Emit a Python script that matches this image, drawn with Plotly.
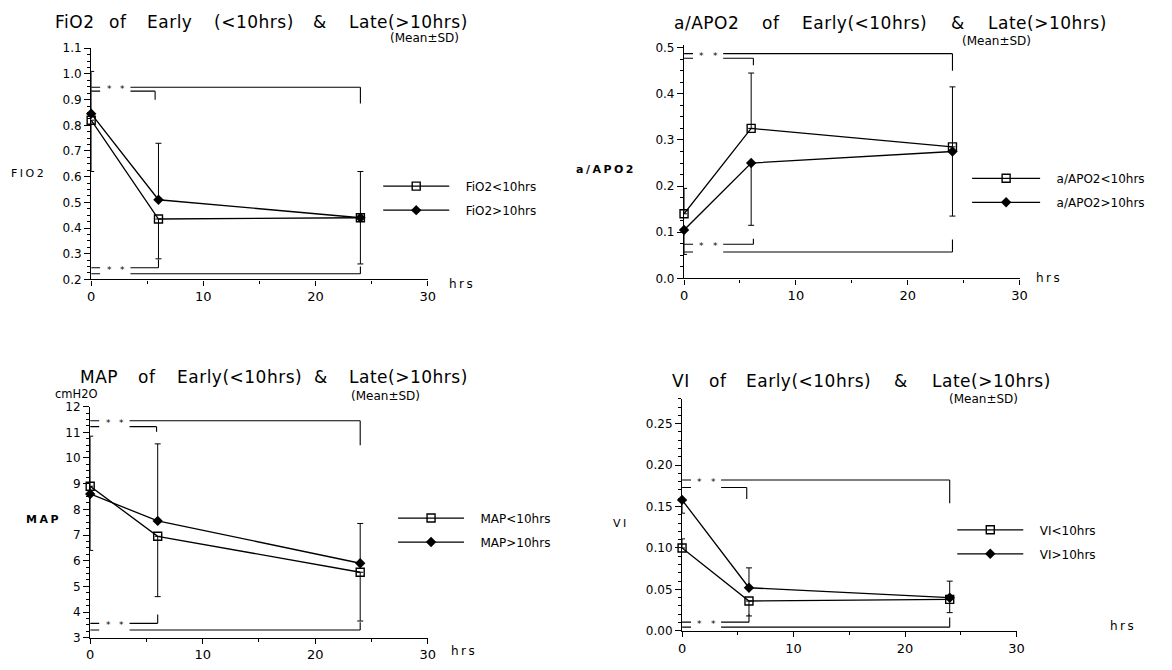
import plotly.graph_objects as go

W, H = 1172, 670
OFF = 8  # default page body margin

hours = [0, 6, 24]

# ---- FiO2 ----
fio2_lt10 = [0.82, 0.435, 0.44]
fio2_gt10 = [0.845, 0.51, 0.44]
fio2_lt10_plus = [0, 0, 0]
fio2_lt10_minus = [0.2, 0.155, 0.18]
fio2_gt10_plus = [0.165, 0.22, 0.18]
fio2_gt10_minus = [0, 0, 0]

# ---- a/APO2 ----
aapo2_lt10 = [0.14, 0.325, 0.285]
aapo2_gt10 = [0.105, 0.25, 0.275]
aapo2_lt10_plus = [0.055, 0.12, 0.13]
aapo2_lt10_minus = [0, 0, 0]
aapo2_gt10_plus = [0, 0, 0]
aapo2_gt10_minus = [0.053, 0.135, 0.14]

# ---- MAP ----
map_lt10 = [8.9, 6.95, 5.55]
map_gt10 = [8.6, 7.55, 5.9]
map_lt10_plus = [0, 0, 0]
map_lt10_minus = [2.5, 2.35, 1.9]
map_gt10_plus = [2.25, 3.0, 1.55]
map_gt10_minus = [0, 0, 0]

# ---- VI ----
vi_lt10 = [0.10, 0.036, 0.038]
vi_gt10 = [0.158, 0.052, 0.04]
vi_lt10_plus = [0.011, 0, 0]
vi_lt10_minus = [0, 0.018, 0.016]
vi_gt10_plus = [0, 0.024, 0.02]
vi_gt10_minus = [0.016, 0, 0]

# significance brackets: (y level, tip y, x end, asterisks)
fio2_brackets = [(0.948, 0.885, 24, True), (0.933, 0.9, 5.7, False),
                 (0.245, 0.277, 6, True), (0.222, 0.25, 24, False)]
aapo2_brackets = [(0.487, 0.45, 24, True), (0.477, 0.462, 6.2, False),
                  (0.074, 0.086, 6.2, True), (0.057, 0.084, 24, False)]
map_brackets = [(11.45, 10.5, 24, True), (11.22, 11.02, 5.9, False),
                (3.56, 3.9, 6, True), (3.3, 3.6, 24, False)]
vi_brackets = [(0.182, 0.154, 24, True), (0.173, 0.159, 5.8, False),
               (0.0105, 0.02, 6, True), (0.0045, 0.016, 24, False)]

NB = "\u00a0\u00a0\u00a0"
panels = [
    dict(lt=fio2_lt10, gt=fio2_gt10,
         ltp=fio2_lt10_plus, ltm=fio2_lt10_minus, gtp=fio2_gt10_plus, gtm=fio2_gt10_minus,
         br=fio2_brackets, yr=[0.2, 1.1], dtick=0.1, minor=0.025, fmt=".1f",
         dom_x=(88, 428), dom_y=(42, 278),
         words=["FiO2", "of", "Early", "(<10hrs)", "&", "Late(>10hrs)"],
         word_cx=[71, 115, 167.5, 252.5, 319, 409], title_y=15,
         mean_xy=(425, 31), ylab="FIO2", ylab_xy=(25, 170), ylab_bold=False,
         hrs_xy=(463, 283), leg_xy=(378, 168), iw=66, legname="legend",
         labels=["FiO2<10hrs", "FiO2>10hrs"]),
    dict(lt=aapo2_lt10, gt=aapo2_gt10,
         ltp=aapo2_lt10_plus, ltm=aapo2_lt10_minus, gtp=aapo2_gt10_plus, gtm=aapo2_gt10_minus,
         br=aapo2_brackets, yr=[0, 0.505], dtick=0.1, minor=0.025, fmt=".1f",
         dom_x=(687, 1026), dom_y=(39, 277),
         words=["a/APO2", "of", "Early(<10hrs)", "&", "Late(>10hrs)"],
         word_cx=[710, 775, 869, 964, 1054], title_y=16,
         mean_xy=(1003, 35), ylab="a/APO2", ylab_xy=(608, 166), ylab_bold=True,
         hrs_xy=(1056, 277), leg_xy=(973, 160), iw=68, legname="legend2",
         labels=["a/APO2<10hrs", "a/APO2>10hrs"]),
    dict(lt=map_lt10, gt=map_gt10,
         ltp=map_lt10_plus, ltm=map_lt10_minus, gtp=map_gt10_plus, gtm=map_gt10_minus,
         br=map_brackets, yr=[3, 12], dtick=1, minor=0.25, fmt="d",
         dom_x=(87, 428), dom_y=(408, 644),
         words=["MAP", "of", "Early(<10hrs)", "&", "Late(>10hrs)"],
         word_cx=[96, 144, 237.5, 320, 409], title_y=378,
         mean_xy=(385, 397), ylab="MAP", ylab_xy=(40, 523), ylab_bold=True,
         hrs_xy=(465, 658), leg_xy=(393, 507), iw=66, legname="legend3",
         labels=["MAP<10hrs", "MAP>10hrs"]),
    dict(lt=vi_lt10, gt=vi_gt10,
         ltp=vi_lt10_plus, ltm=vi_lt10_minus, gtp=vi_gt10_plus, gtm=vi_gt10_minus,
         br=vi_brackets, yr=[0, 0.28], dtick=0.05, minor=0.01, fmt=".2f",
         dom_x=(685, 1023), dom_y=(400, 637),
         words=["VI", "of", "Early(<10hrs)", "&", "Late(>10hrs)"],
         word_cx=[683.5, 721, 813, 906, 998], title_y=382,
         mean_xy=(990, 400), ylab="VI", ylab_xy=(623, 527), ylab_bold=False,
         hrs_xy=(1130, 632), leg_xy=(958, 519), iw=66, legname="legend4",
         labels=["VI<10hrs", "VI>10hrs"]),
]

FONT = "DejaVu Sans, Liberation Sans, sans-serif"
fig = go.Figure()
shapes = []
annotations = []
layout = dict(width=W, height=H, margin=dict(l=0, r=0, t=0, b=0),
              paper_bgcolor="white", plot_bgcolor="white", showlegend=True,
              font=dict(family=FONT, color="black", size=12))


def px(x):
    return (x - OFF) / W


def py(y):
    return 1 - (y - OFF) / H


def text_at(x, y, text, size, spacing=0.0, anchor="center"):
    if spacing:
        text = f'<span style="letter-spacing:{spacing}px">{text}</span>'
    annotations.append(dict(x=px(x), y=py(y), xref="paper", yref="paper", text=text,
                            showarrow=False, xanchor=anchor, yanchor="middle",
                            font=dict(size=size, family=FONT, color="black")))


for i, p in enumerate(panels, start=1):
    xa = "x" if i == 1 else f"x{i}"
    ya = "y" if i == 1 else f"y{i}"
    xkey = "xaxis" if i == 1 else f"xaxis{i}"
    ykey = "yaxis" if i == 1 else f"yaxis{i}"
    x0, x1 = p["dom_x"]
    ytop, ybot = p["dom_y"]
    layout[xkey] = dict(domain=[px(x0), px(x1)], range=[0, 30], anchor=ya,
                        showline=True, linecolor="black", linewidth=1.3,
                        ticks="outside", ticklen=5, tickwidth=1.2, tickcolor="black",
                        dtick=10, tick0=0, showgrid=False, zeroline=False,
                        tickfont=dict(size=13, family=FONT),
                        minor=dict(ticks="outside", ticklen=3, dtick=5, tickcolor="black"))
    layout[ykey] = dict(domain=[py(ybot), py(ytop)], range=p["yr"], anchor=xa,
                        showline=True, linecolor="black", linewidth=1.3,
                        ticks="outside", ticklen=6, tickwidth=1.2, tickcolor="black",
                        dtick=p["dtick"], tick0=0, tickformat=p["fmt"],
                        showgrid=False, zeroline=False,
                        tickfont=dict(size=12, family=FONT),
                        minor=dict(ticks="outside", ticklen=3, dtick=p["minor"], tickcolor="black"))

    fig.add_trace(go.Scatter(
        x=hours, y=p["lt"], mode="lines+markers", name=NB + p["labels"][0],
        xaxis=xa, yaxis=ya, legend=p["legname"], legendgroup=f"{i}a",
        line=dict(color="black", width=1.3), cliponaxis=False,
        marker=dict(symbol="square-open", size=8, color="black", line=dict(width=1.4)),
        error_y=dict(type="data", symmetric=False, array=p["ltp"], arrayminus=p["ltm"],
                     color="black", thickness=1, width=3)))
    fig.add_trace(go.Scatter(
        x=hours, y=p["gt"], mode="lines+markers", name=NB + p["labels"][1],
        xaxis=xa, yaxis=ya, legend=p["legname"], legendgroup=f"{i}b",
        line=dict(color="black", width=1.3), cliponaxis=False,
        marker=dict(symbol="diamond", size=8, color="black"),
        error_y=dict(type="data", symmetric=False, array=p["gtp"], arrayminus=p["gtm"],
                     color="black", thickness=1, width=3)))

    # significance brackets
    for (yl, ytip, xe, star) in p["br"]:
        line = dict(color="black", width=1.1)
        shapes.append(dict(type="line", xref=xa, yref=ya, x0=0, x1=0.8, y0=yl, y1=yl, line=line))
        shapes.append(dict(type="line", xref=xa, yref=ya, x0=3.5, x1=xe, y0=yl, y1=yl, line=line))
        shapes.append(dict(type="line", xref=xa, yref=ya, x0=xe, x1=xe, y0=yl, y1=ytip, line=line))
        if star:
            for xs in (1.6, 2.8):
                annotations.append(dict(x=xs, y=yl, xref=xa, yref=ya, text="*", showarrow=False,
                                        font=dict(size=9), yshift=-2))

    lx, ly = p["leg_xy"]
    layout[p["legname"]] = dict(x=px(lx), y=py(ly), xanchor="left", yanchor="top",
                                bgcolor="rgba(0,0,0,0)", font=dict(size=12, family=FONT),
                                itemwidth=p["iw"], tracegroupgap=5, traceorder="grouped")

    for w, cx in zip(p["words"], p["word_cx"]):
        text_at(cx, p["title_y"], w, 17, spacing=0.5)
    mx, my = p["mean_xy"]
    text_at(mx, my, "(Mean±SD)", 12)
    lbx, lby = p["ylab_xy"]
    lab = f"<b>{p['ylab']}</b>" if p["ylab_bold"] else p["ylab"]
    text_at(lbx, lby, lab, 11, spacing=2.5)
    hx, hy = p["hrs_xy"]
    text_at(hx, hy, "hrs", 12, spacing=2.5)

text_at(73, 395, "cmH2O", 11.5)

layout["shapes"] = shapes
layout["annotations"] = annotations
fig.update_layout(**layout)
fig.write_html("out.html")
